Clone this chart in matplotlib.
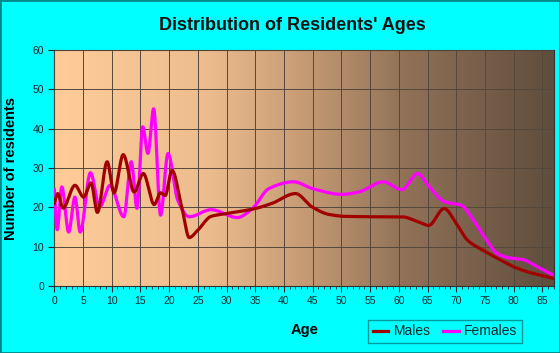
import numpy as np
import matplotlib
matplotlib.use('Agg')
import matplotlib.pyplot as plt
from matplotlib.colors import LinearSegmentedColormap

# values (age, residents)
male_age = [0, 0.6, 1.5, 3.6, 5.1, 6.4, 7.5, 9.2, 10.4, 12.0, 13.9, 15.5, 17.4, 18.5, 19.3,
            20.5, 22.2, 23.5, 25, 27.3, 30, 35, 37.9, 42, 44.9, 47.8, 50.7, 56, 60.5, 63.4,
            65.2, 67.9, 70, 72, 74.6, 77.2, 79.8, 82.4, 87]
male_val = [21, 23.5, 19.8, 25.6, 22.6, 26.2, 18.7, 31.6, 23.7, 33.4, 23.9, 28.6, 20.7, 23.7, 23.0,
            29.4, 20.0, 12.3, 14.2, 17.7, 18.4, 19.7, 21.0, 23.5, 20.1, 18.2, 17.7, 17.6, 17.6, 16.3,
            15.4, 19.7, 15.9, 11.6, 9.1, 7.0, 5.0, 3.6, 1.9]

female_age = [0, 0.5, 1.3, 2.5, 3.6, 4.5, 6.3, 7.9, 9.7, 12.1, 13.4, 14.4, 15.4, 16.3, 17.3,
              18.5, 19.8, 21.5, 23.5, 27.3, 31.9, 34.5, 37.4, 41.7, 44.9, 50.1, 53, 57.3, 60.5,
              63.3, 65.1, 68, 70.9, 72.6, 74.9, 77.2, 79, 81.6, 84.2, 87]
female_val = [24.5, 14.3, 25.2, 13.7, 22.6, 13.7, 28.8, 20.1, 25.6, 17.6, 31.6, 19.7, 40.5, 33.7, 45.1,
              18.0, 33.7, 21.8, 17.6, 19.4, 17.4, 19.7, 24.8, 26.5, 24.8, 23.3, 23.9, 26.5, 24.5,
              28.6, 25.6, 21.4, 20.5, 17.6, 12.5, 8.2, 7.2, 6.7, 4.8, 2.7]


def pchip(x, y, xs):
    # monotone cubic smoothing of the read points, for drawing only
    x = np.asarray(x, float)
    y = np.asarray(y, float)
    h = np.diff(x)
    d = np.diff(y) / h
    m = np.zeros_like(y)
    for k in range(1, len(x) - 1):
        if d[k - 1] * d[k] > 0:
            w1 = 2 * h[k] + h[k - 1]
            w2 = h[k] + 2 * h[k - 1]
            m[k] = (w1 + w2) / (w1 / d[k - 1] + w2 / d[k])
    m[0] = d[0]
    m[-1] = d[-1]
    i = np.clip(np.searchsorted(x, xs) - 1, 0, len(x) - 2)
    t = (xs - x[i]) / h[i]
    h00 = 2 * t**3 - 3 * t**2 + 1
    h10 = t**3 - 2 * t**2 + t
    h01 = -2 * t**3 + 3 * t**2
    h11 = t**3 - t**2
    return h00 * y[i] + h10 * h[i] * m[i] + h01 * y[i + 1] + h11 * h[i] * m[i + 1]


plt.rcParams['font.family'] = ['Liberation Sans', 'DejaVu Sans']

fig = plt.figure(figsize=(5.6, 3.53), dpi=100, facecolor='#00FFFF')
fig.patches.append(plt.Rectangle((0, 0), 1, 1, transform=fig.transFigure, fill=False,
                                 edgecolor='#008888', linewidth=2))
ax = fig.add_axes([0.097, 0.19, 0.892, 0.668])

cmap = LinearSegmentedColormap.from_list('bg', [
    (0.0, '#FFCC99'), (0.3, '#EDBD8F'), (0.5, '#C69B74'), (0.7, '#917258'), (1.0, '#5F4D3D')])
ax.imshow(np.linspace(0, 1, 256).reshape(1, -1), cmap=cmap, extent=[0, 87, 0, 60],
          aspect='auto', zorder=0, interpolation='bilinear')

xs = np.linspace(0, 87, 1200)
ax.plot(xs, pchip(female_age, female_val, xs), color='#FF00FF', lw=2.3, label='Females', zorder=3)
ax.plot(xs, pchip(male_age, male_val, xs), color='#A00000', lw=2.3, label='Males', zorder=4)

ax.set_xlim(0, 87)
ax.set_ylim(0, 60)
ax.set_xticks(np.arange(0, 86, 5))
ax.set_xticks(np.arange(0, 88, 1), minor=True)
ax.set_yticks(np.arange(0, 61, 10))
ax.grid(True, which='major', color='#54473c', lw=0.7, zorder=1)
ax.set_axisbelow(False)
for s in ax.spines.values():
    s.set_color('#333333')
    s.set_linewidth(0.8)
ax.tick_params(axis='both', which='major', labelsize=7.5, colors='#1a2a2a', length=4, width=0.8)
ax.tick_params(axis='x', which='minor', length=2.5, width=0.6, color='#1a2a2a')

fig.text(0.522, 1 - 25 / 353, "Distribution of Residents' Ages", fontsize=13, fontweight='bold',
         ha='center', va='center', color='#111111')
ax.set_xlabel('Age', fontsize=10.5, fontweight='bold', labelpad=12)
ax.set_ylabel('Number of residents', fontsize=10.5, fontweight='bold', labelpad=10)

h, l = ax.get_legend_handles_labels()
leg = fig.legend(h[::-1], l[::-1], loc='lower left', bbox_to_anchor=(0.645, 0.008), ncol=2,
                 fontsize=10, frameon=True, fancybox=False, handlelength=1.1, handletextpad=0.4,
                 columnspacing=0.9, borderpad=0.35)
leg.get_frame().set_facecolor('#00FFFF')
leg.get_frame().set_edgecolor('#008080')
leg.get_frame().set_linewidth(1)
for t in leg.get_texts():
    t.set_color('#0a2a2a')

fig.savefig('out.png', dpi=100, facecolor=fig.get_facecolor())
